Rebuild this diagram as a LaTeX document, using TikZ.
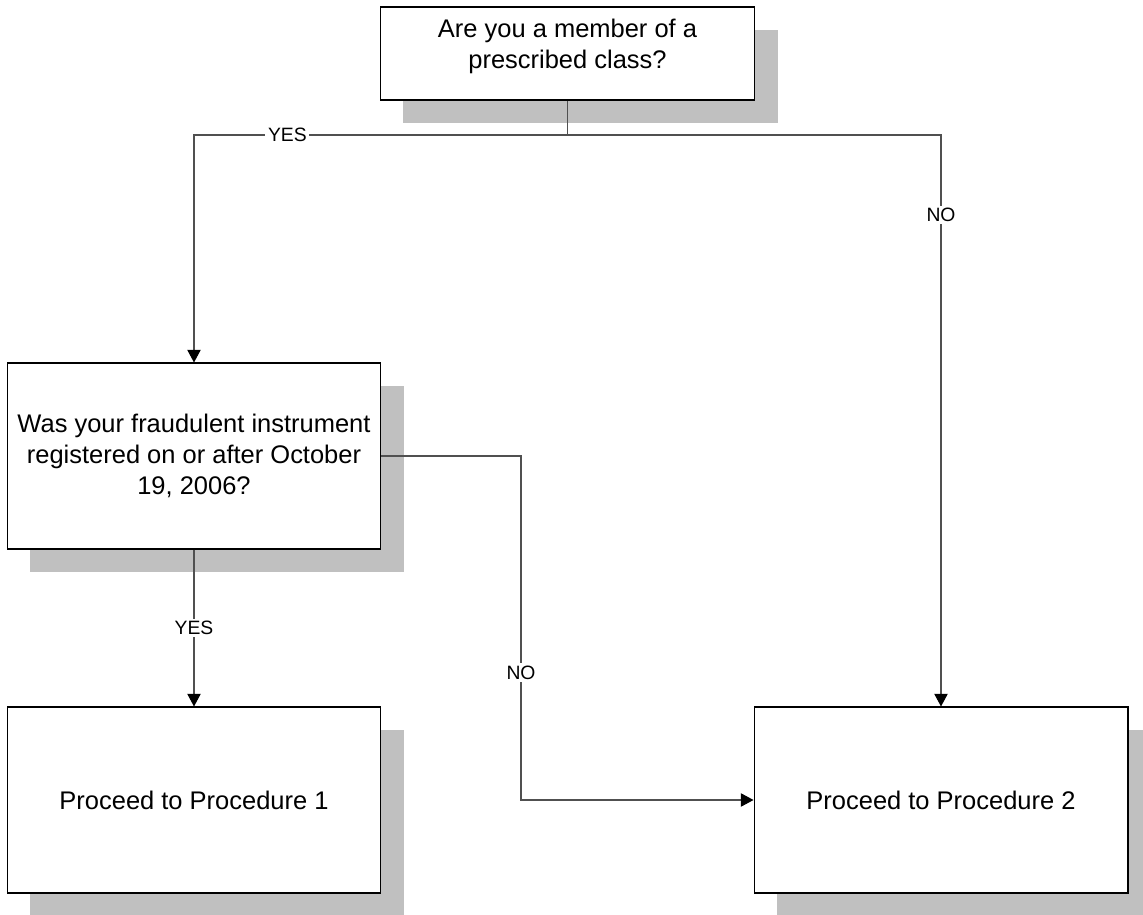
\documentclass[tikz,border=0pt]{standalone}
\usepackage{fontspec}
\setmainfont{Liberation Sans}
\usetikzlibrary{arrows.meta,shadows}
\definecolor{shadowgray}{HTML}{C0C0C0}
\definecolor{linegray}{HTML}{505050}
\begin{document}
\begin{tikzpicture}[x=0.02cm, y=-0.02cm,
  box/.style={draw=black, line width=0.6pt, fill=white, align=center,
    minimum width=7.48cm, minimum height=3.72cm, inner sep=0pt,
    font=\fontsize{14.5}{17.6}\selectfont,
    drop shadow={shadow xshift=0.46cm, shadow yshift=-0.46cm, fill=shadowgray, opacity=1}},
  conn/.style={draw=linegray, line width=0.6pt},
  arr/.style={conn, -{Triangle[width=7.6pt, length=7.2pt, color=black]}},
  lbl/.style={fill=white, inner sep=1.5pt, font=\fontsize{11}{13}\selectfont}]
\useasboundingbox (0,0) rectangle (1143,915);

\node[box, minimum width=7.5cm, minimum height=1.86cm] (Q1) at (567.5, 53.5)
  {Are you a member of a\\ prescribed class?\\[-6.2pt] \mbox{}};
\node[box] (Q2) at (194, 456)
  {Was your fraudulent instrument\\ registered on or after October\\ 19, 2006?};
\node[box] (P1) at (194, 800) {Proceed to Procedure 1};
\node[box] (P2) at (941, 800) {Proceed to Procedure 2};

\coordinate (split) at (567.5, 135);
\coordinate (left) at (194, 135);
\coordinate (right) at (941, 135);
\coordinate (bend1) at (521, 456);
\coordinate (bend2) at (521, 800);

\draw [conn] (Q1.south) to (split);
\draw [arr] (split) -- (left) node [lbl, pos=0.75] {YES} -- (Q2.north);
\draw [arr] (split) -- (right) -- (P2.north) node [lbl, pos=0.14] {NO};
\draw [arr] (Q2.south) -- (P1.north) node [lbl, midway] {YES};
\draw [arr] (Q2.east) -- (bend1) -- (bend2) node [lbl, pos=0.63] {NO} -- (P2.west);
\end{tikzpicture}
\end{document}
